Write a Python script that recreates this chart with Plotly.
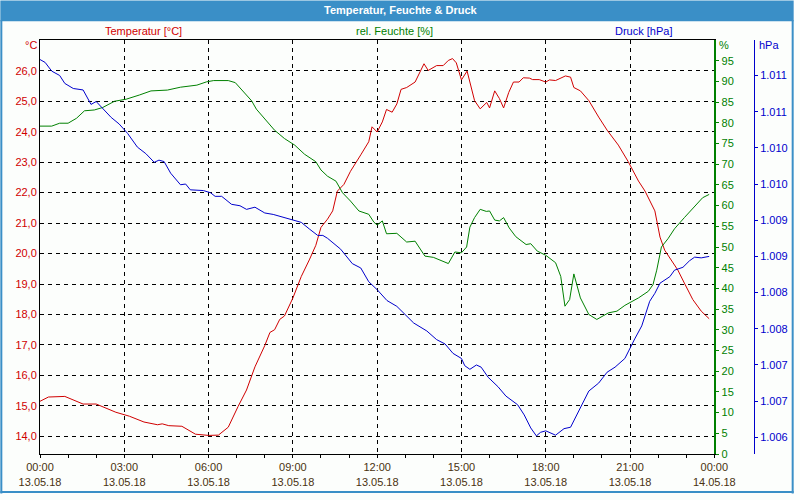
import plotly.graph_objects as go

# ---- data (minutes after 13.05.18 00:00) ----
temp_min = [0, 18, 53, 92, 120, 162, 191, 222, 251, 261, 275, 303, 332, 360, 381, 402, 423, 441, 459, 480,
            491, 501, 512, 522, 540, 558, 575, 589, 600, 614, 625, 635, 649, 663, 685, 702, 709, 720, 731, 740,
            752, 762, 771, 783, 801, 820, 829, 847, 861, 872, 881, 889, 900, 912, 928, 940, 954, 960, 971, 981,
            990, 1001, 1011, 1023, 1032, 1045, 1052, 1066, 1080, 1088, 1101, 1122, 1133, 1140, 1154, 1172, 1193,
            1211, 1235, 1256, 1278, 1292, 1313, 1324, 1334, 1362, 1376, 1394, 1412, 1429]
temp_val = [15.15, 15.29, 15.31, 15.06, 15.06, 14.79, 14.66, 14.47, 14.38, 14.41, 14.35, 14.33, 14.07, 14.03,
             14.04, 14.30, 14.98, 15.52, 16.28, 16.98, 17.41, 17.50, 17.84, 17.95, 18.54, 19.25, 19.79, 20.27,
             20.86, 21.13, 21.40, 22.05, 22.27, 22.70, 23.24, 23.67, 24.16, 23.99, 24.32, 24.73, 24.64, 24.91,
             25.39, 25.45, 25.63, 26.23, 26.01, 26.17, 26.17, 26.34, 26.40, 26.26, 25.70, 25.99, 25.02, 24.75,
             24.96, 24.78, 25.34, 25.09, 24.78, 25.29, 25.63, 25.63, 25.77, 25.76, 25.71, 25.71, 25.63, 25.70,
             25.68, 25.83, 25.79, 25.45, 25.34, 25.02, 24.48, 24.05, 23.56, 23.02, 22.38, 22.05, 21.40, 20.54,
             20.11, 19.46, 19.03, 18.49, 18.11, 17.86]

hum_min = [0, 25, 42, 60, 78, 95, 116, 134, 159, 184, 212, 237, 272, 300, 335, 356, 371, 402, 417, 438, 452,
           462, 480, 501, 522, 544, 565, 589, 600, 614, 632, 646, 663, 681, 702, 713, 720, 731, 740, 762, 783,
           801, 822, 840, 872, 886, 900, 911, 918, 928, 940, 953, 960, 971, 981, 990, 1002, 1016, 1038, 1048,
           1062, 1080, 1101, 1112, 1121, 1131, 1140, 1154, 1172, 1189, 1214, 1232, 1249, 1278, 1299, 1309,
           1317, 1327, 1341, 1355, 1376, 1398, 1415, 1429]
hum_val = [79.2, 79.2, 79.9, 79.9, 81.1, 82.9, 83.1, 83.7, 85.2, 85.7, 86.7, 87.7, 87.9, 88.6, 89.1, 89.9,
           90.2, 90.2, 89.7, 86.9, 85.3, 83.3, 81.0, 78.2, 76.2, 74.6, 72.4, 70.6, 68.6, 67.1, 65.9, 63.1,
           61.1, 58.7, 57.9, 56.0, 55.3, 56.3, 53.2, 53.3, 51.2, 51.4, 47.8, 47.5, 46.0, 48.8, 48.6, 50.0,
           54.8, 57.1, 59.1, 58.6, 58.7, 56.5, 56.3, 57.1, 54.6, 52.5, 50.6, 50.8, 49.0, 48.0, 46.2, 42.9,
           35.7, 37.3, 43.5, 37.7, 33.7, 32.5, 34.1, 34.5, 35.9, 37.7, 39.3, 40.9, 44.4, 50.0, 52.0, 54.4,
           57.1, 59.9, 61.9, 62.7]

pres_min = [0, 11, 25, 42, 53, 71, 92, 109, 120, 134, 152, 169, 187, 208, 226, 244, 254, 265, 279, 300, 311,
            321, 349, 364, 374, 388, 409, 427, 441, 459, 480, 498, 519, 544, 558, 575, 593, 604, 614, 642, 667,
            685, 702, 720, 741, 762, 783, 798, 826, 847, 865, 882, 900, 907, 918, 932, 942, 957, 978, 995,
            1020, 1034, 1048, 1060, 1069, 1080, 1101, 1119, 1133, 1154, 1172, 1193, 1211, 1228, 1249, 1270,
            1285, 1302, 1313, 1324, 1345, 1355, 1373, 1387, 1398, 1412, 1429]
pres_val = [1011.72, 1011.68, 1011.56, 1011.50, 1011.39, 1011.32, 1011.30, 1011.10, 1011.14, 1011.04, 1010.92,
            1010.83, 1010.70, 1010.51, 1010.42, 1010.30, 1010.33, 1010.31, 1010.15, 1009.99, 1010.00, 1009.92,
            1009.91, 1009.88, 1009.83, 1009.83, 1009.72, 1009.70, 1009.65, 1009.68, 1009.60, 1009.58, 1009.54,
            1009.50, 1009.47, 1009.38, 1009.29, 1009.29, 1009.25, 1009.10, 1008.90, 1008.84, 1008.65, 1008.54,
            1008.39, 1008.31, 1008.17, 1008.08, 1007.97, 1007.85, 1007.79, 1007.66, 1007.59, 1007.49, 1007.44,
            1007.50, 1007.47, 1007.33, 1007.20, 1007.07, 1006.95, 1006.81, 1006.63, 1006.52, 1006.57, 1006.59,
            1006.53, 1006.62, 1006.64, 1006.92, 1007.14, 1007.25, 1007.40, 1007.47, 1007.59, 1007.86, 1008.04,
            1008.38, 1008.49, 1008.63, 1008.72, 1008.81, 1008.85, 1008.94, 1008.99, 1008.98, 1009.00]

x_tick_vals = ["2018-05-13 00:00", "2018-05-13 03:00", "2018-05-13 06:00", "2018-05-13 09:00",
               "2018-05-13 12:00", "2018-05-13 15:00", "2018-05-13 18:00", "2018-05-13 21:00",
               "2018-05-14 00:00"]
x_tick_text = ["00:00<br>13.05.18", "03:00<br>13.05.18", "06:00<br>13.05.18", "09:00<br>13.05.18",
               "12:00<br>13.05.18", "15:00<br>13.05.18", "18:00<br>13.05.18", "21:00<br>13.05.18",
               "00:00<br>14.05.18"]
temp_ticks = list(range(14, 27))
hum_ticks = list(range(0, 100, 5))
pres_ticks = [1006.5, 1007.0, 1007.5, 1008.0, 1008.5, 1009.0, 1009.5, 1010.0, 1010.5, 1011.0, 1011.5]
pres_tick_text = ["1.%03d" % (int(v) % 1000) for v in pres_ticks]


def to_ts(mins):
    return ["2018-05-13 %02d:%02d" % (m // 60, m % 60) for m in mins]


RED = "#d00000"
GREEN = "#008000"
BLUE = "#0000cc"
FONT = "Liberation Sans"

fig = go.Figure()
fig.add_trace(go.Scatter(x=to_ts(pres_min), y=pres_val, yaxis="y3", mode="lines",
                         line=dict(color=BLUE, width=1), name="Druck [hPa]"))
fig.add_trace(go.Scatter(x=to_ts(hum_min), y=hum_val, yaxis="y2", mode="lines",
                         line=dict(color=GREEN, width=1), name="rel. Feuchte [%]"))
fig.add_trace(go.Scatter(x=to_ts(temp_min), y=temp_val, yaxis="y", mode="lines",
                         line=dict(color=RED, width=1), name="Temperatur [°C]"))

L, R, T, B = 40, 40, 40, 40
W, H = 800, 500
pw, ph = W - L - R, H - T - B


def px(x):
    return (x - L) / pw


def py(y):
    return (H - B - y) / ph


shapes = [
    dict(type="rect", xref="paper", yref="paper", x0=px(0), x1=px(800), y0=py(21), y1=py(0),
         fillcolor="#3a8fc7", line=dict(width=0), layer="below"),
    dict(type="line", xref="paper", yref="paper", x0=px(1), x1=px(1), y0=py(500), y1=py(20),
         line=dict(color="#3a8fc7", width=2)),
    dict(type="line", xref="paper", yref="paper", x0=px(799), x1=px(799), y0=py(500), y1=py(20),
         line=dict(color="#3a8fc7", width=2)),
    dict(type="line", xref="paper", yref="paper", x0=px(0), x1=px(800), y0=py(498.5), y1=py(498.5),
         line=dict(color="#3a8fc7", width=2)),
]

annotations = [
    dict(text="<b>Temperatur, Feuchte & Druck</b>", x=px(404), y=py(10), xref="paper", yref="paper",
         showarrow=False, font=dict(color="white", size=11, family=FONT), xanchor="center", yanchor="middle"),
    dict(text="Temperatur [°C]", x=px(144), y=py(31), xref="paper", yref="paper", showarrow=False,
         font=dict(color=RED, size=11, family=FONT), xanchor="center", yanchor="middle"),
    dict(text="rel. Feuchte [%]", x=px(397), y=py(31), xref="paper", yref="paper", showarrow=False,
         font=dict(color=GREEN, size=11, family=FONT), xanchor="center", yanchor="middle"),
    dict(text="Druck [hPa]", x=px(649), y=py(31), xref="paper", yref="paper", showarrow=False,
         font=dict(color=BLUE, size=11, family=FONT), xanchor="center", yanchor="middle"),
    dict(text="°C", x=px(39), y=py(45), xref="paper", yref="paper", showarrow=False,
         font=dict(color=RED, size=11, family=FONT), xanchor="right", yanchor="middle"),
    dict(text="%", x=px(723), y=py(45), xref="paper", yref="paper", showarrow=False,
         font=dict(color=GREEN, size=11, family=FONT), xanchor="left", yanchor="middle"),
    dict(text="hPa", x=px(763), y=py(45), xref="paper", yref="paper", showarrow=False,
         font=dict(color=BLUE, size=11, family=FONT), xanchor="left", yanchor="middle"),
]

fig.update_layout(
    width=W, height=H, margin=dict(l=L, r=R, t=T, b=B),
    paper_bgcolor="#fcfefc", plot_bgcolor="#fcfefc",
    showlegend=False, separators=",.",
    font=dict(family=FONT, size=11),
    shapes=shapes, annotations=annotations,
    xaxis=dict(type="date", domain=[0, 680 / 720],
               range=["2018-05-13 00:00", "2018-05-14 00:00"],
               tickmode="array", tickvals=x_tick_vals, ticktext=x_tick_text,
               tickfont=dict(color="#4a3210", size=11, family=FONT),
               showline=True, linecolor="black", linewidth=1, mirror=True,
               ticks="outside", ticklen=3, tickcolor="black",
               showgrid=True, gridcolor="black", gridwidth=1, griddash="4px,4px",
               minor=dict(tick0="2018-05-13", dtick=3600000, ticks="outside", ticklen=3,
                          tickcolor="black", showgrid=False),
               zeroline=False),
    yaxis=dict(range=[13.42, 27.01], tickmode="array", tickvals=temp_ticks, tickformat=".1f",
               tickfont=dict(color=RED, size=11, family=FONT),
               showline=True, linecolor="black", linewidth=1, ticks="",
               showgrid=True, gridcolor="black", gridwidth=1, griddash="4px,4px",
               zeroline=False),
    yaxis2=dict(range=[0, 100], overlaying="y", side="right", anchor="x",
                tickmode="array", tickvals=hum_ticks,
                tickfont=dict(color=GREEN, size=11, family=FONT),
                showline=True, linecolor=GREEN, linewidth=2, ticks="outside", ticklen=3,
                tickcolor=GREEN, showgrid=False, zeroline=False),
    yaxis3=dict(range=[1006.27, 1011.99], overlaying="y", side="right", anchor="free", position=1.0,
                tickmode="array", tickvals=pres_ticks, ticktext=pres_tick_text,
                tickfont=dict(color=BLUE, size=11, family=FONT),
                showline=True, linecolor=BLUE, linewidth=1, ticks="outside", ticklen=3,
                tickcolor=BLUE, showgrid=False, zeroline=False),
)

fig.write_html("out.html")
